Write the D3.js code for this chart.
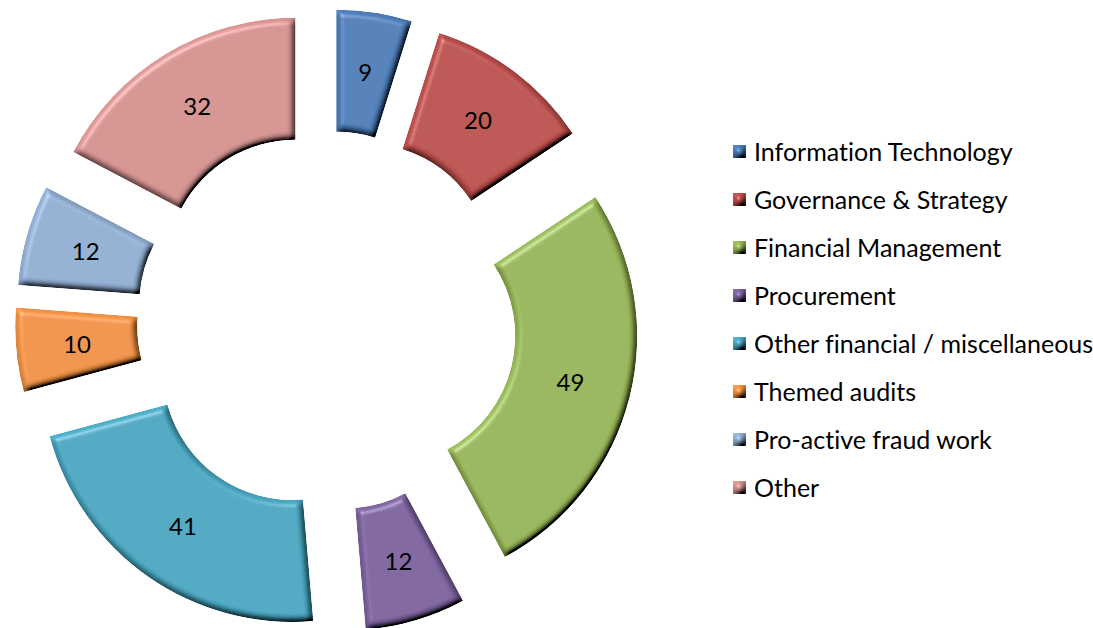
<!DOCTYPE html>
<html><head><meta charset="utf-8">
<script src="https://cdn.jsdelivr.net/npm/d3@7"></script>
<style>body{margin:0;background:#fff}svg{display:block}text{font-variant-ligatures:none}</style>
</head><body>
<svg id="c" width="1093" height="628"></svg>
<script>
const categories = ["Information Technology","Governance & Strategy","Financial Management","Procurement","Other financial / miscellaneous","Themed audits","Pro-active fraud work","Other"];
const values = [9,20,49,12,41,10,12,32];
const colors = ["#4F81BD","#C0504D","#9BBB59","#8064A2","#4BACC6","#F79646","#95B3D7","#D99694"];

const svg = d3.select("#c");
const cx = 327, cy = 321, R = 251, r0 = 129, explode = 61;

const defs = svg.append("defs");
const f = defs.append("filter").attr("id","bevel").attr("x","-10%").attr("y","-10%").attr("width","120%").attr("height","120%");
f.append("feGaussianBlur").attr("in","SourceAlpha").attr("stdDeviation",3.4).attr("result","blur");
const dl = f.append("feDiffuseLighting").attr("in","blur").attr("surfaceScale",7).attr("diffuseConstant",1).attr("lighting-color","#fff").attr("result","diff");
dl.append("feDistantLight").attr("azimuth",235).attr("elevation",55);
f.append("feComposite").attr("in","SourceGraphic").attr("in2","diff").attr("operator","arithmetic").attr("k1",1.13).attr("k2",0).attr("k3",0).attr("k4",0).attr("result","shaded");
const sl = f.append("feSpecularLighting").attr("in","blur").attr("surfaceScale",7).attr("specularConstant",0.6).attr("specularExponent",22).attr("lighting-color","#fff").attr("result","spec");
sl.append("feDistantLight").attr("azimuth",235).attr("elevation",40);
f.append("feComposite").attr("in","spec").attr("in2","SourceAlpha").attr("operator","in").attr("result","specIn");
f.append("feComposite").attr("in","shaded").attr("in2","specIn").attr("operator","arithmetic").attr("k1",0).attr("k2",1).attr("k3",0.4).attr("k4",0).attr("result","lit");
f.append("feComposite").attr("in","lit").attr("in2","SourceAlpha").attr("operator","in");

const pie = d3.pie().sort(null).value(d => d);
const arcs = pie(values);
const arc = d3.arc().innerRadius(r0).outerRadius(R);

const g = svg.append("g").attr("transform",`translate(${cx},${cy})`);
const slices = g.selectAll("g.slice").data(arcs).enter().append("g").attr("class","slice")
  .attr("transform", d => { const a=(d.startAngle+d.endAngle)/2; return `translate(${explode*Math.sin(a)},${-explode*Math.cos(a)})`; });
slices.append("path").attr("d", arc).attr("fill",(d,i)=>colors[i]).attr("filter","url(#bevel)");
slices.append("text")
  .attr("transform", d => { const a=(d.startAngle+d.endAngle)/2, rr=(R+r0)/2; return `translate(${rr*Math.sin(a)},${-rr*Math.cos(a)})`; })
  .attr("text-anchor","middle").attr("dy","0.35em")
  .attr("font-family","Lato, 'Open Sans', sans-serif").attr("font-size",24).attr("fill","#000")
  .text(d => d.data);

// legend
const lg = svg.append("g").attr("transform","translate(733,152)");
const rows = lg.selectAll("g").data(categories).enter().append("g").attr("transform",(d,i)=>`translate(0,${i*48.0})`);
rows.append("rect").attr("x",0).attr("y",-7).attr("width",13).attr("height",13).attr("fill",(d,i)=>colors[i]).attr("filter","url(#bevel)");
rows.append("text").attr("x",21).attr("dy","0.35em").attr("font-family","Lato, 'Open Sans', sans-serif").attr("font-size",25).attr("fill","#000").text(d=>d);
</script>
</body></html>
